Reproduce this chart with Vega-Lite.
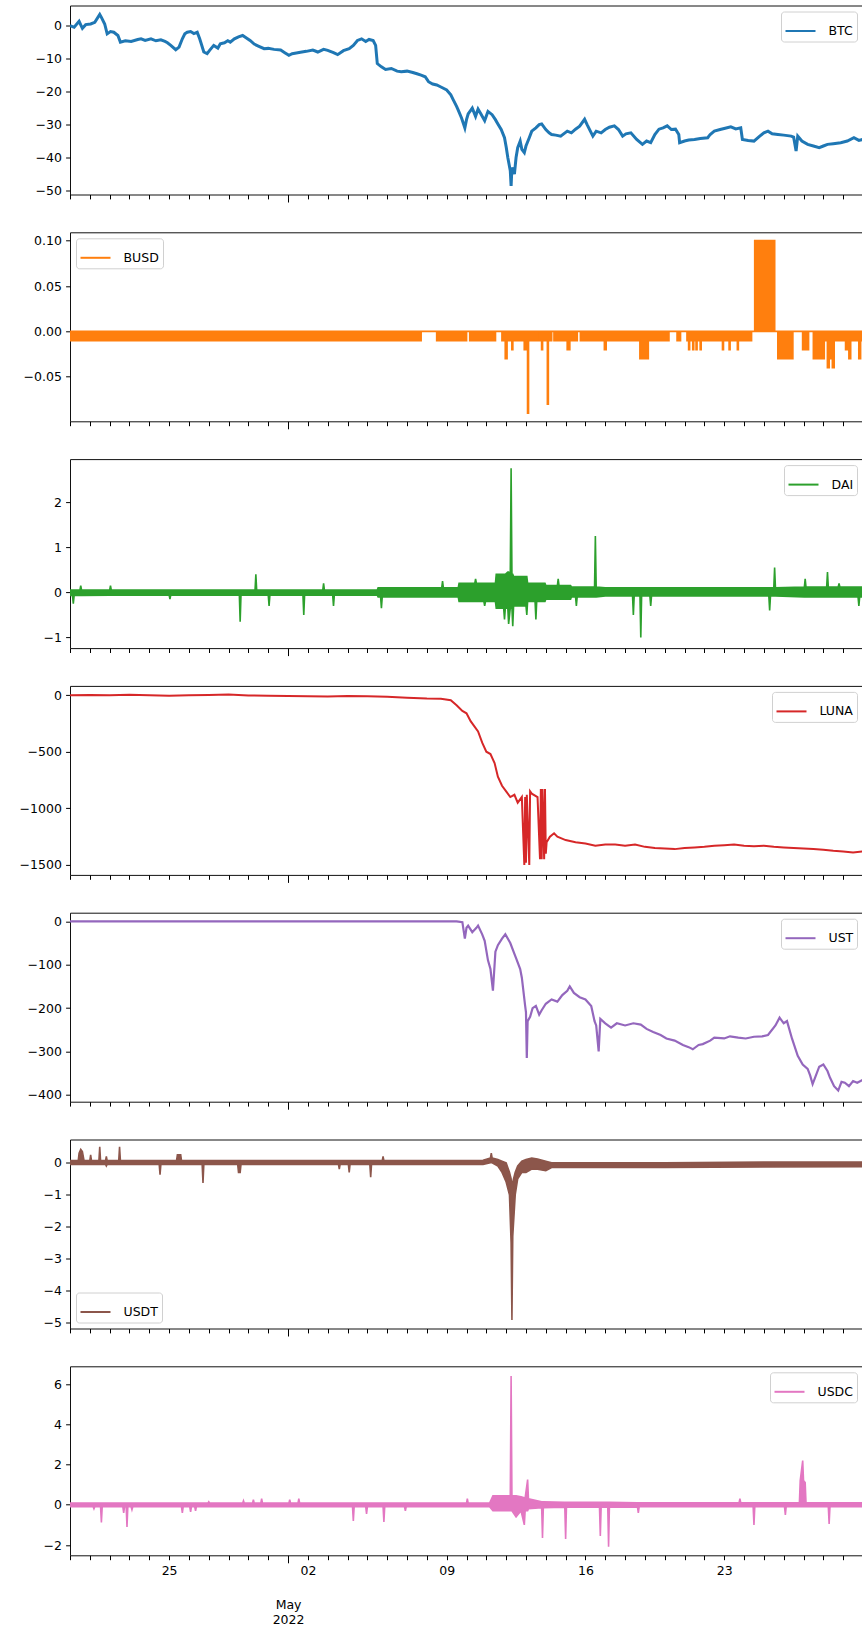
{
"$schema":"https://vega.github.io/schema/vega-lite/v6.json",
"autosize":{"type":"pad"},
"padding":{"left":0,"top":4.5,"right":0,"bottom":2},
"background":"white",
"spacing":37.8,
"bounds":"flush",
"resolve":{"scale":{"color":"independent"},"legend":{"color":"independent"}},
"config":{
 "font":"DejaVu Sans",
 "view":{"stroke":"#111","strokeWidth":1},
 "axisY":{"domain":false,"grid":false,"tickSize":4.4,"labelPadding":4.2,"minExtent":69,"maxExtent":69,"labelFont":"DejaVu Sans","labelFontSize":12.5,"labelColor":"#000","tickColor":"#000","tickWidth":1},
 "axisX":{"domain":false,"grid":false,"tickColor":"#000","tickWidth":1},
 "legend":{"title":null,"labelFont":"DejaVu Sans","labelFontSize":12.5,"labelColor":"#000","symbolSize":900,"symbolStrokeWidth":2,"fillColor":"white","strokeColor":"#d0d0d0","cornerRadius":3,"padding":3.5,"offset":6,"labelOffset":12}
},
"datasets":{
"btc":[
{"t":"2022-04-20T00:00","v":0},{"t":"2022-04-20T05:00","v":-0.5},{"t":"2022-04-20T11:00","v":1.3},{"t":"2022-04-20T13:00","v":0.2},{"t":"2022-04-20T15:00","v":-0.8},{"t":"2022-04-20T19:00","v":0.3},
{"t":"2022-04-21T01:00","v":0.5},{"t":"2022-04-21T06:00","v":1.0},{"t":"2022-04-21T12:00","v":3.4},{"t":"2022-04-21T14:00","v":2.5},{"t":"2022-04-21T18:00","v":0.5},{"t":"2022-04-21T21:00","v":-2.5},
{"t":"2022-04-22T01:00","v":-1.8},{"t":"2022-04-22T05:00","v":-2.0},{"t":"2022-04-22T10:00","v":-3.0},{"t":"2022-04-22T13:00","v":-5.0},{"t":"2022-04-22T19:00","v":-4.6},
{"t":"2022-04-23T02:00","v":-4.8},{"t":"2022-04-23T10:00","v":-4.2},{"t":"2022-04-23T14:00","v":-4.0},{"t":"2022-04-23T19:00","v":-4.5},
{"t":"2022-04-24T02:00","v":-4.0},{"t":"2022-04-24T08:00","v":-4.6},{"t":"2022-04-24T14:00","v":-4.3},{"t":"2022-04-24T19:00","v":-4.8},{"t":"2022-04-24T22:00","v":-5.2},
{"t":"2022-04-25T02:00","v":-6.0},{"t":"2022-04-25T08:00","v":-7.3},{"t":"2022-04-25T12:00","v":-6.5},{"t":"2022-04-25T16:00","v":-4.0},{"t":"2022-04-25T19:00","v":-2.5},{"t":"2022-04-25T22:00","v":-2.0},
{"t":"2022-04-26T02:00","v":-1.8},{"t":"2022-04-26T06:00","v":-2.4},{"t":"2022-04-26T10:00","v":-2.0},{"t":"2022-04-26T13:00","v":-4.0},{"t":"2022-04-26T18:00","v":-8.0},{"t":"2022-04-26T22:00","v":-8.5},
{"t":"2022-04-27T01:00","v":-7.5},{"t":"2022-04-27T06:00","v":-6.0},{"t":"2022-04-27T11:00","v":-6.8},{"t":"2022-04-27T14:00","v":-5.5},{"t":"2022-04-27T19:00","v":-5.2},{"t":"2022-04-27T23:00","v":-4.6},
{"t":"2022-04-28T02:00","v":-5.0},{"t":"2022-04-28T07:00","v":-4.0},{"t":"2022-04-28T12:00","v":-3.4},{"t":"2022-04-28T17:00","v":-3.0},{"t":"2022-04-28T22:00","v":-3.8},
{"t":"2022-04-29T02:00","v":-4.5},{"t":"2022-04-29T07:00","v":-5.6},{"t":"2022-04-29T12:00","v":-6.2},{"t":"2022-04-29T19:00","v":-7.0},
{"t":"2022-04-30T00:00","v":-6.9},{"t":"2022-04-30T07:00","v":-7.2},{"t":"2022-04-30T15:00","v":-7.4},{"t":"2022-04-30T20:00","v":-8.2},
{"t":"2022-05-01T01:00","v":-9.0},{"t":"2022-05-01T05:00","v":-8.5},{"t":"2022-05-01T10:00","v":-8.3},{"t":"2022-05-01T15:00","v":-8.1},{"t":"2022-05-01T22:00","v":-7.8},
{"t":"2022-05-02T06:00","v":-7.4},{"t":"2022-05-02T12:00","v":-8.0},{"t":"2022-05-02T19:00","v":-7.2},
{"t":"2022-05-03T00:00","v":-7.5},{"t":"2022-05-03T07:00","v":-8.2},{"t":"2022-05-03T12:00","v":-8.8},{"t":"2022-05-03T19:00","v":-7.6},
{"t":"2022-05-04T02:00","v":-7.0},{"t":"2022-05-04T07:00","v":-6.0},{"t":"2022-05-04T12:00","v":-4.5},{"t":"2022-05-04T17:00","v":-4.0},{"t":"2022-05-04T22:00","v":-4.8},
{"t":"2022-05-05T02:00","v":-4.2},{"t":"2022-05-05T07:00","v":-4.5},{"t":"2022-05-05T10:00","v":-6.0},{"t":"2022-05-05T12:00","v":-11.5},{"t":"2022-05-05T17:00","v":-12.5},{"t":"2022-05-05T22:00","v":-13.3},
{"t":"2022-05-06T05:00","v":-13.0},{"t":"2022-05-06T12:00","v":-13.8},{"t":"2022-05-06T17:00","v":-14.0},
{"t":"2022-05-07T00:00","v":-13.8},{"t":"2022-05-07T07:00","v":-14.2},{"t":"2022-05-07T12:00","v":-14.6},{"t":"2022-05-07T17:00","v":-15.0},{"t":"2022-05-07T22:00","v":-15.5},
{"t":"2022-05-08T02:00","v":-17.0},{"t":"2022-05-08T07:00","v":-17.7},{"t":"2022-05-08T12:00","v":-18.0},{"t":"2022-05-08T17:00","v":-18.6},
{"t":"2022-05-09T00:00","v":-19.5},{"t":"2022-05-09T05:00","v":-21.0},{"t":"2022-05-09T08:00","v":-22.5},{"t":"2022-05-09T12:00","v":-24.5},{"t":"2022-05-09T14:00","v":-25.6},{"t":"2022-05-09T18:00","v":-28.0},{"t":"2022-05-09T22:00","v":-31.0},
{"t":"2022-05-10T00:00","v":-28.5},{"t":"2022-05-10T02:00","v":-26.8},{"t":"2022-05-10T07:00","v":-25.0},{"t":"2022-05-10T11:00","v":-27.5},{"t":"2022-05-10T14:00","v":-25.3},{"t":"2022-05-10T18:00","v":-27.0},{"t":"2022-05-10T22:00","v":-28.8},
{"t":"2022-05-11T02:00","v":-26.0},{"t":"2022-05-11T07:00","v":-27.0},{"t":"2022-05-11T11:00","v":-28.5},{"t":"2022-05-11T14:00","v":-29.8},{"t":"2022-05-11T18:00","v":-31.5},{"t":"2022-05-11T22:00","v":-34.0},
{"t":"2022-05-12T00:00","v":-36.7},{"t":"2022-05-12T02:00","v":-40.0},{"t":"2022-05-12T05:00","v":-44.0},{"t":"2022-05-12T06:00","v":-48.6},{"t":"2022-05-12T07:00","v":-43.0},{"t":"2022-05-12T10:00","v":-45.0},{"t":"2022-05-12T12:00","v":-40.0},{"t":"2022-05-12T14:00","v":-37.0},{"t":"2022-05-12T17:00","v":-35.0},{"t":"2022-05-12T19:00","v":-37.5},{"t":"2022-05-12T22:00","v":-38.5},
{"t":"2022-05-13T00:00","v":-36.5},{"t":"2022-05-13T04:00","v":-34.0},{"t":"2022-05-13T07:00","v":-32.0},{"t":"2022-05-13T12:00","v":-31.0},{"t":"2022-05-13T16:00","v":-30.0},{"t":"2022-05-13T19:00","v":-29.8},
{"t":"2022-05-14T00:00","v":-31.5},{"t":"2022-05-14T04:00","v":-32.5},{"t":"2022-05-14T07:00","v":-33.0},{"t":"2022-05-14T12:00","v":-33.2},{"t":"2022-05-14T18:00","v":-33.5},
{"t":"2022-05-15T02:00","v":-32.0},{"t":"2022-05-15T07:00","v":-32.5},{"t":"2022-05-15T12:00","v":-31.4},{"t":"2022-05-15T17:00","v":-30.5},{"t":"2022-05-15T23:00","v":-28.4},
{"t":"2022-05-16T02:00","v":-30.0},{"t":"2022-05-16T09:00","v":-33.5},{"t":"2022-05-16T13:00","v":-32.0},{"t":"2022-05-16T19:00","v":-32.5},
{"t":"2022-05-17T00:00","v":-31.5},{"t":"2022-05-17T05:00","v":-30.8},{"t":"2022-05-17T11:00","v":-30.4},{"t":"2022-05-17T16:00","v":-31.5},{"t":"2022-05-17T21:00","v":-33.5},
{"t":"2022-05-18T01:00","v":-32.8},{"t":"2022-05-18T07:00","v":-32.5},{"t":"2022-05-18T14:00","v":-34.5},{"t":"2022-05-18T21:00","v":-36.0},
{"t":"2022-05-19T02:00","v":-35.0},{"t":"2022-05-19T07:00","v":-35.5},{"t":"2022-05-19T12:00","v":-33.0},{"t":"2022-05-19T17:00","v":-31.4},{"t":"2022-05-19T22:00","v":-31.0},
{"t":"2022-05-20T03:00","v":-30.4},{"t":"2022-05-20T08:00","v":-31.5},{"t":"2022-05-20T13:00","v":-31.4},{"t":"2022-05-20T17:00","v":-33.0},{"t":"2022-05-20T18:00","v":-35.5},
{"t":"2022-05-21T00:00","v":-35.0},{"t":"2022-05-21T05:00","v":-34.7},{"t":"2022-05-21T12:00","v":-34.5},{"t":"2022-05-21T19:00","v":-34.2},
{"t":"2022-05-22T04:00","v":-34.0},{"t":"2022-05-22T07:00","v":-33.0},{"t":"2022-05-22T12:00","v":-32.0},{"t":"2022-05-22T19:00","v":-31.5},
{"t":"2022-05-23T00:00","v":-31.2},{"t":"2022-05-23T08:00","v":-30.7},{"t":"2022-05-23T14:00","v":-31.3},{"t":"2022-05-23T20:00","v":-31.0},{"t":"2022-05-23T22:00","v":-34.5},
{"t":"2022-05-24T05:00","v":-34.8},{"t":"2022-05-24T12:00","v":-35.0},{"t":"2022-05-24T19:00","v":-33.5},
{"t":"2022-05-25T00:00","v":-32.5},{"t":"2022-05-25T05:00","v":-32.0},{"t":"2022-05-25T10:00","v":-32.8},{"t":"2022-05-25T17:00","v":-33.0},
{"t":"2022-05-26T00:00","v":-33.2},{"t":"2022-05-26T09:00","v":-33.5},{"t":"2022-05-26T12:00","v":-33.8},{"t":"2022-05-26T15:00","v":-38.0},{"t":"2022-05-26T17:00","v":-33.5},{"t":"2022-05-26T22:00","v":-35.0},
{"t":"2022-05-27T05:00","v":-36.0},{"t":"2022-05-27T12:00","v":-36.5},{"t":"2022-05-27T19:00","v":-37.0},
{"t":"2022-05-28T00:00","v":-36.5},{"t":"2022-05-28T05:00","v":-36.0},{"t":"2022-05-28T12:00","v":-35.8},{"t":"2022-05-28T21:00","v":-35.5},
{"t":"2022-05-29T05:00","v":-35.0},{"t":"2022-05-29T13:00","v":-34.0},{"t":"2022-05-29T19:00","v":-34.8},{"t":"2022-05-30T00:00","v":-34.5}
],
"busd":[
{"t":"2022-04-20T00:00","lo":-0.01,"hi":0},{"t":"2022-05-07T17:00","lo":0,"hi":0},{"t":"2022-05-08T12:00","lo":-0.01,"hi":0},{"t":"2022-05-10T00:00","lo":0,"hi":0},{"t":"2022-05-10T04:00","lo":-0.01,"hi":0},
{"t":"2022-05-11T11:00","lo":0,"hi":0},{"t":"2022-05-11T19:00","lo":-0.01,"hi":0},{"t":"2022-05-11T23:00","lo":-0.03,"hi":0},{"t":"2022-05-12T01:00","lo":-0.01,"hi":0},{"t":"2022-05-12T07:00","lo":-0.02,"hi":0},{"t":"2022-05-12T08:00","lo":-0.01,"hi":0},
{"t":"2022-05-12T22:00","lo":-0.02,"hi":0},{"t":"2022-05-13T00:00","lo":-0.01,"hi":0},{"t":"2022-05-13T02:00","lo":-0.09,"hi":0},{"t":"2022-05-13T03:00","lo":-0.01,"hi":0},{"t":"2022-05-13T12:00","lo":0,"hi":0},{"t":"2022-05-13T14:00","lo":-0.01,"hi":0},
{"t":"2022-05-13T19:00","lo":-0.02,"hi":0},{"t":"2022-05-13T20:00","lo":-0.01,"hi":0},{"t":"2022-05-14T02:00","lo":-0.08,"hi":0},{"t":"2022-05-14T03:00","lo":-0.01,"hi":0},{"t":"2022-05-14T07:00","lo":0,"hi":0},{"t":"2022-05-14T10:00","lo":-0.01,"hi":0},
{"t":"2022-05-15T02:00","lo":-0.02,"hi":0},{"t":"2022-05-15T05:00","lo":-0.01,"hi":0},{"t":"2022-05-15T14:00","lo":0,"hi":0},{"t":"2022-05-15T18:00","lo":-0.01,"hi":0},{"t":"2022-05-16T23:00","lo":-0.02,"hi":0},{"t":"2022-05-17T01:00","lo":-0.01,"hi":0},
{"t":"2022-05-18T18:00","lo":-0.03,"hi":0},{"t":"2022-05-19T04:00","lo":-0.01,"hi":0},{"t":"2022-05-20T05:00","lo":0,"hi":0},{"t":"2022-05-20T15:00","lo":-0.01,"hi":0},{"t":"2022-05-20T19:00","lo":0,"hi":0},{"t":"2022-05-21T03:00","lo":-0.01,"hi":0},
{"t":"2022-05-21T05:00","lo":-0.02,"hi":0},{"t":"2022-05-21T06:00","lo":-0.01,"hi":0},{"t":"2022-05-21T10:00","lo":-0.02,"hi":0},{"t":"2022-05-21T11:00","lo":-0.01,"hi":0},{"t":"2022-05-21T14:00","lo":-0.02,"hi":0},{"t":"2022-05-21T15:00","lo":-0.01,"hi":0},
{"t":"2022-05-21T19:00","lo":-0.02,"hi":0},{"t":"2022-05-21T20:00","lo":-0.01,"hi":0},{"t":"2022-05-22T22:00","lo":-0.02,"hi":0},{"t":"2022-05-22T23:00","lo":-0.01,"hi":0},{"t":"2022-05-23T06:00","lo":-0.02,"hi":0},{"t":"2022-05-23T07:00","lo":-0.01,"hi":0},
{"t":"2022-05-23T16:00","lo":-0.02,"hi":0},{"t":"2022-05-23T17:00","lo":-0.01,"hi":0},{"t":"2022-05-24T09:00","lo":0,"hi":0},{"t":"2022-05-24T13:00","lo":0,"hi":0.1},{"t":"2022-05-25T13:00","lo":0,"hi":0},{"t":"2022-05-25T17:00","lo":-0.03,"hi":0},
{"t":"2022-05-26T11:00","lo":0,"hi":0},{"t":"2022-05-26T23:00","lo":-0.02,"hi":0},{"t":"2022-05-27T06:00","lo":0,"hi":0},{"t":"2022-05-27T12:00","lo":-0.03,"hi":0},{"t":"2022-05-28T01:00","lo":-0.01,"hi":0},{"t":"2022-05-28T05:00","lo":-0.04,"hi":0},
{"t":"2022-05-28T07:00","lo":-0.03,"hi":0},{"t":"2022-05-28T11:00","lo":-0.04,"hi":0},{"t":"2022-05-28T13:00","lo":-0.01,"hi":0},{"t":"2022-05-29T03:00","lo":-0.02,"hi":0},{"t":"2022-05-29T07:00","lo":-0.03,"hi":0},{"t":"2022-05-29T09:00","lo":-0.01,"hi":0},
{"t":"2022-05-29T19:00","lo":-0.03,"hi":0},{"t":"2022-05-29T21:00","lo":-0.01,"hi":0},{"t":"2022-05-30T00:00","lo":-0.01,"hi":0}
],
"dai":[
{"t":"2022-04-20T00:00","lo":-0.07,"hi":0.05},{"t":"2022-04-20T03:00","lo":-0.07,"hi":0.05},{"t":"2022-04-20T04:00","lo":-0.25,"hi":0.05},{"t":"2022-04-20T05:00","lo":-0.07,"hi":0.05},{"t":"2022-04-20T12:00","lo":-0.07,"hi":0.05},{"t":"2022-04-20T13:00","lo":-0.07,"hi":0.15},{"t":"2022-04-20T14:00","lo":-0.07,"hi":0.05},
{"t":"2022-04-22T00:00","lo":-0.06,"hi":0.05},{"t":"2022-04-22T01:00","lo":-0.06,"hi":0.15},{"t":"2022-04-22T02:00","lo":-0.06,"hi":0.05},{"t":"2022-04-25T00:00","lo":-0.06,"hi":0.05},{"t":"2022-04-25T01:00","lo":-0.15,"hi":0.05},{"t":"2022-04-25T02:00","lo":-0.06,"hi":0.05},
{"t":"2022-04-28T13:00","lo":-0.06,"hi":0.05},{"t":"2022-04-28T14:00","lo":-0.65,"hi":0.05},{"t":"2022-04-28T15:00","lo":-0.06,"hi":0.05},{"t":"2022-04-29T08:00","lo":-0.06,"hi":0.05},{"t":"2022-04-29T09:00","lo":-0.06,"hi":0.4},{"t":"2022-04-29T10:00","lo":-0.06,"hi":0.05},
{"t":"2022-04-30T00:00","lo":-0.06,"hi":0.05},{"t":"2022-04-30T01:00","lo":-0.3,"hi":0.05},{"t":"2022-04-30T02:00","lo":-0.06,"hi":0.05},{"t":"2022-05-01T18:00","lo":-0.06,"hi":0.05},{"t":"2022-05-01T19:00","lo":-0.5,"hi":0.05},{"t":"2022-05-01T20:00","lo":-0.06,"hi":0.05},
{"t":"2022-05-02T18:00","lo":-0.06,"hi":0.05},{"t":"2022-05-02T19:00","lo":-0.06,"hi":0.2},{"t":"2022-05-02T20:00","lo":-0.06,"hi":0.05},{"t":"2022-05-03T06:00","lo":-0.06,"hi":0.05},{"t":"2022-05-03T07:00","lo":-0.3,"hi":0.05},{"t":"2022-05-03T08:00","lo":-0.06,"hi":0.05},
{"t":"2022-05-05T12:00","lo":-0.06,"hi":0.05},{"t":"2022-05-05T13:00","lo":-0.1,"hi":0.1},{"t":"2022-05-05T16:00","lo":-0.1,"hi":0.1},{"t":"2022-05-05T17:00","lo":-0.35,"hi":0.1},{"t":"2022-05-05T18:00","lo":-0.1,"hi":0.1},{"t":"2022-05-08T18:00","lo":-0.1,"hi":0.1},{"t":"2022-05-08T19:00","lo":-0.1,"hi":0.25},{"t":"2022-05-08T20:00","lo":-0.1,"hi":0.1},
{"t":"2022-05-09T14:00","lo":-0.1,"hi":0.1},{"t":"2022-05-09T15:00","lo":-0.2,"hi":0.2},{"t":"2022-05-10T10:00","lo":-0.2,"hi":0.2},{"t":"2022-05-10T11:00","lo":-0.2,"hi":0.3},{"t":"2022-05-10T12:00","lo":-0.2,"hi":0.2},{"t":"2022-05-10T21:00","lo":-0.2,"hi":0.2},{"t":"2022-05-10T22:00","lo":-0.3,"hi":0.2},{"t":"2022-05-10T23:00","lo":-0.2,"hi":0.2},
{"t":"2022-05-11T11:00","lo":-0.2,"hi":0.2},{"t":"2022-05-11T12:00","lo":-0.35,"hi":0.4},{"t":"2022-05-11T21:00","lo":-0.35,"hi":0.4},{"t":"2022-05-11T22:00","lo":-0.6,"hi":0.4},{"t":"2022-05-11T23:00","lo":-0.35,"hi":0.4},{"t":"2022-05-12T02:00","lo":-0.35,"hi":0.45},{"t":"2022-05-12T03:00","lo":-0.7,"hi":0.45},{"t":"2022-05-12T05:00","lo":-0.35,"hi":0.4},
{"t":"2022-05-12T06:00","lo":-0.35,"hi":2.75},{"t":"2022-05-12T07:00","lo":-0.35,"hi":0.4},{"t":"2022-05-12T08:00","lo":-0.75,"hi":0.4},{"t":"2022-05-12T09:00","lo":-0.3,"hi":0.35},{"t":"2022-05-13T00:00","lo":-0.3,"hi":0.35},{"t":"2022-05-13T01:00","lo":-0.5,"hi":0.35},{"t":"2022-05-13T02:00","lo":-0.2,"hi":0.2},
{"t":"2022-05-13T11:00","lo":-0.2,"hi":0.2},{"t":"2022-05-13T12:00","lo":-0.6,"hi":0.2},{"t":"2022-05-13T13:00","lo":-0.2,"hi":0.2},{"t":"2022-05-13T23:00","lo":-0.2,"hi":0.2},{"t":"2022-05-14T00:00","lo":-0.15,"hi":0.15},{"t":"2022-05-14T14:00","lo":-0.15,"hi":0.15},{"t":"2022-05-14T15:00","lo":-0.15,"hi":0.3},{"t":"2022-05-14T16:00","lo":-0.15,"hi":0.15},
{"t":"2022-05-15T06:00","lo":-0.15,"hi":0.15},{"t":"2022-05-15T07:00","lo":-0.1,"hi":0.12},{"t":"2022-05-15T12:00","lo":-0.1,"hi":0.12},{"t":"2022-05-15T13:00","lo":-0.3,"hi":0.12},{"t":"2022-05-15T14:00","lo":-0.1,"hi":0.12},{"t":"2022-05-16T11:00","lo":-0.1,"hi":0.12},{"t":"2022-05-16T12:00","lo":-0.1,"hi":1.25},{"t":"2022-05-16T13:00","lo":-0.1,"hi":0.12},
{"t":"2022-05-17T00:00","lo":-0.08,"hi":0.1},{"t":"2022-05-18T09:00","lo":-0.08,"hi":0.1},{"t":"2022-05-18T10:00","lo":-0.5,"hi":0.1},{"t":"2022-05-18T11:00","lo":-0.08,"hi":0.1},{"t":"2022-05-18T18:00","lo":-0.08,"hi":0.1},{"t":"2022-05-18T19:00","lo":-1.0,"hi":0.1},{"t":"2022-05-18T20:00","lo":-0.08,"hi":0.1},
{"t":"2022-05-19T06:00","lo":-0.08,"hi":0.1},{"t":"2022-05-19T07:00","lo":-0.3,"hi":0.1},{"t":"2022-05-19T08:00","lo":-0.08,"hi":0.1},{"t":"2022-05-25T06:00","lo":-0.08,"hi":0.1},{"t":"2022-05-25T07:00","lo":-0.4,"hi":0.1},{"t":"2022-05-25T08:00","lo":-0.08,"hi":0.1},
{"t":"2022-05-25T12:00","lo":-0.08,"hi":0.1},{"t":"2022-05-25T13:00","lo":-0.08,"hi":0.55},{"t":"2022-05-25T14:00","lo":-0.08,"hi":0.1},{"t":"2022-05-27T01:00","lo":-0.1,"hi":0.12},{"t":"2022-05-27T02:00","lo":-0.1,"hi":0.3},{"t":"2022-05-27T03:00","lo":-0.1,"hi":0.12},
{"t":"2022-05-28T04:00","lo":-0.1,"hi":0.12},{"t":"2022-05-28T05:00","lo":-0.1,"hi":0.45},{"t":"2022-05-28T06:00","lo":-0.1,"hi":0.12},{"t":"2022-05-28T18:00","lo":-0.1,"hi":0.12},{"t":"2022-05-28T19:00","lo":-0.1,"hi":0.2},{"t":"2022-05-28T20:00","lo":-0.1,"hi":0.12},
{"t":"2022-05-29T18:00","lo":-0.1,"hi":0.12},{"t":"2022-05-29T19:00","lo":-0.3,"hi":0.12},{"t":"2022-05-29T20:00","lo":-0.1,"hi":0.12},{"t":"2022-05-30T00:00","lo":-0.1,"hi":0.12}
],
"luna":[
{"t":"2022-04-20T00:00","v":0},{"t":"2022-04-21T00:00","v":2},{"t":"2022-04-22T00:00","v":-2},{"t":"2022-04-23T00:00","v":3},{"t":"2022-04-24T00:00","v":0},{"t":"2022-04-25T00:00","v":-5},{"t":"2022-04-26T00:00","v":0},{"t":"2022-04-27T00:00","v":2},{"t":"2022-04-28T00:00","v":5},{"t":"2022-04-29T00:00","v":-3},{"t":"2022-04-30T00:00","v":-5},
{"t":"2022-05-01T00:00","v":-8},{"t":"2022-05-02T00:00","v":-10},{"t":"2022-05-03T00:00","v":-12},{"t":"2022-05-04T00:00","v":-8},{"t":"2022-05-05T00:00","v":-10},{"t":"2022-05-06T00:00","v":-15},{"t":"2022-05-07T00:00","v":-22},{"t":"2022-05-08T00:00","v":-30},{"t":"2022-05-08T17:00","v":-32},
{"t":"2022-05-09T05:00","v":-45},{"t":"2022-05-09T12:00","v":-90},{"t":"2022-05-09T19:00","v":-140},{"t":"2022-05-10T00:00","v":-160},{"t":"2022-05-10T05:00","v":-230},{"t":"2022-05-10T10:00","v":-280},{"t":"2022-05-10T14:00","v":-320},{"t":"2022-05-10T19:00","v":-420},
{"t":"2022-05-11T00:00","v":-500},{"t":"2022-05-11T05:00","v":-520},{"t":"2022-05-11T10:00","v":-600},{"t":"2022-05-11T14:00","v":-720},{"t":"2022-05-11T19:00","v":-800},{"t":"2022-05-12T00:00","v":-850},{"t":"2022-05-12T05:00","v":-900},{"t":"2022-05-12T10:00","v":-880},{"t":"2022-05-12T14:00","v":-950},{"t":"2022-05-12T19:00","v":-900},
{"t":"2022-05-12T22:00","v":-1500},{"t":"2022-05-12T23:00","v":-900},{"t":"2022-05-13T00:00","v":-1480},{"t":"2022-05-13T01:00","v":-880},{"t":"2022-05-13T04:00","v":-1500},{"t":"2022-05-13T05:00","v":-850},{"t":"2022-05-13T07:00","v":-870},{"t":"2022-05-13T14:00","v":-900},
{"t":"2022-05-13T17:00","v":-1450},{"t":"2022-05-13T18:00","v":-830},{"t":"2022-05-13T19:00","v":-1450},{"t":"2022-05-13T20:00","v":-830},{"t":"2022-05-13T22:00","v":-1450},{"t":"2022-05-13T23:00","v":-830},{"t":"2022-05-14T00:00","v":-1400},{"t":"2022-05-14T01:00","v":-1300},
{"t":"2022-05-14T05:00","v":-1250},{"t":"2022-05-14T10:00","v":-1220},{"t":"2022-05-14T14:00","v":-1250},{"t":"2022-05-15T00:00","v":-1280},{"t":"2022-05-15T12:00","v":-1300},{"t":"2022-05-16T00:00","v":-1310},{"t":"2022-05-16T12:00","v":-1330},{"t":"2022-05-17T00:00","v":-1320},{"t":"2022-05-17T12:00","v":-1320},
{"t":"2022-05-18T00:00","v":-1330},{"t":"2022-05-18T12:00","v":-1320},{"t":"2022-05-19T00:00","v":-1340},{"t":"2022-05-19T12:00","v":-1350},{"t":"2022-05-20T00:00","v":-1355},{"t":"2022-05-20T12:00","v":-1360},{"t":"2022-05-21T00:00","v":-1350},{"t":"2022-05-21T12:00","v":-1345},
{"t":"2022-05-22T00:00","v":-1340},{"t":"2022-05-22T12:00","v":-1330},{"t":"2022-05-23T00:00","v":-1325},{"t":"2022-05-23T12:00","v":-1320},{"t":"2022-05-24T00:00","v":-1330},{"t":"2022-05-24T12:00","v":-1335},{"t":"2022-05-25T00:00","v":-1330},{"t":"2022-05-25T12:00","v":-1340},
{"t":"2022-05-26T00:00","v":-1345},{"t":"2022-05-26T12:00","v":-1350},{"t":"2022-05-27T00:00","v":-1355},{"t":"2022-05-27T12:00","v":-1360},{"t":"2022-05-28T00:00","v":-1365},{"t":"2022-05-28T12:00","v":-1375},{"t":"2022-05-29T00:00","v":-1380},{"t":"2022-05-29T12:00","v":-1390},{"t":"2022-05-30T00:00","v":-1380}
],
"ust":[
{"t":"2022-04-20T00:00","v":0},{"t":"2022-05-09T12:00","v":0},{"t":"2022-05-09T19:00","v":-2},{"t":"2022-05-09T22:00","v":-40},{"t":"2022-05-10T00:00","v":-15},{"t":"2022-05-10T02:00","v":-10},{"t":"2022-05-10T07:00","v":-25},{"t":"2022-05-10T12:00","v":-15},{"t":"2022-05-10T14:00","v":-10},{"t":"2022-05-10T19:00","v":-30},{"t":"2022-05-10T22:00","v":-45},
{"t":"2022-05-11T02:00","v":-90},{"t":"2022-05-11T05:00","v":-110},{"t":"2022-05-11T08:00","v":-160},{"t":"2022-05-11T11:00","v":-70},{"t":"2022-05-11T14:00","v":-55},{"t":"2022-05-11T19:00","v":-40},{"t":"2022-05-11T23:00","v":-30},
{"t":"2022-05-12T05:00","v":-50},{"t":"2022-05-12T10:00","v":-75},{"t":"2022-05-12T12:00","v":-85},{"t":"2022-05-12T17:00","v":-110},{"t":"2022-05-12T19:00","v":-130},{"t":"2022-05-12T23:00","v":-195},
{"t":"2022-05-13T00:00","v":-210},{"t":"2022-05-13T01:00","v":-315},{"t":"2022-05-13T02:00","v":-230},{"t":"2022-05-13T05:00","v":-220},{"t":"2022-05-13T08:00","v":-200},{"t":"2022-05-13T12:00","v":-195},{"t":"2022-05-13T16:00","v":-215},{"t":"2022-05-13T19:00","v":-205},
{"t":"2022-05-14T00:00","v":-190},{"t":"2022-05-14T07:00","v":-180},{"t":"2022-05-14T14:00","v":-185},{"t":"2022-05-14T20:00","v":-170},{"t":"2022-05-15T02:00","v":-160},{"t":"2022-05-15T05:00","v":-150},{"t":"2022-05-15T10:00","v":-165},{"t":"2022-05-15T17:00","v":-175},
{"t":"2022-05-16T00:00","v":-180},{"t":"2022-05-16T07:00","v":-195},{"t":"2022-05-16T11:00","v":-230},{"t":"2022-05-16T13:00","v":-240},{"t":"2022-05-16T16:00","v":-300},{"t":"2022-05-16T18:00","v":-225},
{"t":"2022-05-17T00:00","v":-235},{"t":"2022-05-17T07:00","v":-245},{"t":"2022-05-17T14:00","v":-235},{"t":"2022-05-18T00:00","v":-240},{"t":"2022-05-18T10:00","v":-235},{"t":"2022-05-18T19:00","v":-238},
{"t":"2022-05-19T02:00","v":-248},{"t":"2022-05-19T10:00","v":-255},{"t":"2022-05-19T19:00","v":-262},{"t":"2022-05-20T02:00","v":-270},{"t":"2022-05-20T12:00","v":-275},{"t":"2022-05-20T22:00","v":-285},
{"t":"2022-05-21T05:00","v":-290},{"t":"2022-05-21T10:00","v":-295},{"t":"2022-05-21T17:00","v":-285},{"t":"2022-05-21T22:00","v":-283},{"t":"2022-05-22T07:00","v":-275},{"t":"2022-05-22T12:00","v":-268},
{"t":"2022-05-23T00:00","v":-270},{"t":"2022-05-23T07:00","v":-265},{"t":"2022-05-23T17:00","v":-268},{"t":"2022-05-24T02:00","v":-270},{"t":"2022-05-24T12:00","v":-266},{"t":"2022-05-24T22:00","v":-265},
{"t":"2022-05-25T05:00","v":-262},{"t":"2022-05-25T14:00","v":-240},{"t":"2022-05-25T19:00","v":-222},{"t":"2022-05-26T00:00","v":-235},{"t":"2022-05-26T04:00","v":-230},{"t":"2022-05-26T10:00","v":-270},{"t":"2022-05-26T17:00","v":-310},{"t":"2022-05-26T23:00","v":-330},
{"t":"2022-05-27T05:00","v":-340},{"t":"2022-05-27T08:00","v":-355},{"t":"2022-05-27T11:00","v":-375},{"t":"2022-05-27T14:00","v":-360},{"t":"2022-05-27T19:00","v":-335},
{"t":"2022-05-28T00:00","v":-330},{"t":"2022-05-28T05:00","v":-345},{"t":"2022-05-28T08:00","v":-360},{"t":"2022-05-28T13:00","v":-380},{"t":"2022-05-28T18:00","v":-390},{"t":"2022-05-28T22:00","v":-370},
{"t":"2022-05-29T02:00","v":-372},{"t":"2022-05-29T07:00","v":-380},{"t":"2022-05-29T12:00","v":-368},{"t":"2022-05-29T17:00","v":-372},{"t":"2022-05-30T00:00","v":-365}
],
"usdt":[
{"t":"2022-04-20T00:00","lo":-0.05,"hi":0.07},{"t":"2022-04-20T10:00","lo":-0.05,"hi":0.07},{"t":"2022-04-20T11:00","lo":-0.05,"hi":0.3},{"t":"2022-04-20T13:00","lo":-0.05,"hi":0.42},{"t":"2022-04-20T15:00","lo":-0.05,"hi":0.35},{"t":"2022-04-20T17:00","lo":-0.05,"hi":0.07},
{"t":"2022-04-21T00:00","lo":-0.05,"hi":0.07},{"t":"2022-04-21T01:00","lo":-0.05,"hi":0.25},{"t":"2022-04-21T02:00","lo":-0.05,"hi":0.07},{"t":"2022-04-21T11:00","lo":-0.05,"hi":0.07},{"t":"2022-04-21T12:00","lo":-0.05,"hi":0.5},{"t":"2022-04-21T13:00","lo":-0.05,"hi":0.07},
{"t":"2022-04-21T19:00","lo":-0.05,"hi":0.07},{"t":"2022-04-21T20:00","lo":-0.1,"hi":0.2},{"t":"2022-04-21T21:00","lo":-0.05,"hi":0.07},{"t":"2022-04-22T11:00","lo":-0.05,"hi":0.07},{"t":"2022-04-22T12:00","lo":-0.05,"hi":0.5},{"t":"2022-04-22T13:00","lo":-0.05,"hi":0.07},
{"t":"2022-04-24T12:00","lo":-0.05,"hi":0.07},{"t":"2022-04-24T13:00","lo":-0.37,"hi":0.07},{"t":"2022-04-24T14:00","lo":-0.05,"hi":0.07},{"t":"2022-04-25T09:00","lo":-0.05,"hi":0.07},{"t":"2022-04-25T10:00","lo":-0.05,"hi":0.25},{"t":"2022-04-25T14:00","lo":-0.05,"hi":0.25},{"t":"2022-04-25T15:00","lo":-0.05,"hi":0.07},
{"t":"2022-04-26T16:00","lo":-0.05,"hi":0.07},{"t":"2022-04-26T17:00","lo":-0.63,"hi":0.07},{"t":"2022-04-26T18:00","lo":-0.05,"hi":0.07},{"t":"2022-04-28T11:00","lo":-0.05,"hi":0.07},{"t":"2022-04-28T12:00","lo":-0.3,"hi":0.07},{"t":"2022-04-28T14:00","lo":-0.3,"hi":0.07},{"t":"2022-04-28T15:00","lo":-0.05,"hi":0.07},
{"t":"2022-05-03T13:00","lo":-0.05,"hi":0.07},{"t":"2022-05-03T14:00","lo":-0.2,"hi":0.07},{"t":"2022-05-03T15:00","lo":-0.05,"hi":0.07},{"t":"2022-05-04T01:00","lo":-0.05,"hi":0.07},{"t":"2022-05-04T02:00","lo":-0.3,"hi":0.07},{"t":"2022-05-04T03:00","lo":-0.05,"hi":0.07},
{"t":"2022-05-05T03:00","lo":-0.05,"hi":0.07},{"t":"2022-05-05T04:00","lo":-0.45,"hi":0.07},{"t":"2022-05-05T05:00","lo":-0.05,"hi":0.07},{"t":"2022-05-05T18:00","lo":-0.05,"hi":0.07},{"t":"2022-05-05T19:00","lo":-0.05,"hi":0.2},{"t":"2022-05-05T20:00","lo":-0.05,"hi":0.07},
{"t":"2022-05-10T20:00","lo":-0.05,"hi":0.08},{"t":"2022-05-11T05:00","lo":0.0,"hi":0.15},{"t":"2022-05-11T06:00","lo":0.0,"hi":0.3},{"t":"2022-05-11T07:00","lo":0.0,"hi":0.15},{"t":"2022-05-11T14:00","lo":-0.1,"hi":0.1},{"t":"2022-05-11T19:00","lo":-0.3,"hi":0.05},
{"t":"2022-05-12T00:00","lo":-0.6,"hi":0.0},{"t":"2022-05-12T04:00","lo":-1.0,"hi":-0.3},{"t":"2022-05-12T06:00","lo":-2.5,"hi":-0.5},{"t":"2022-05-12T07:00","lo":-4.93,"hi":-1.0},{"t":"2022-05-12T08:00","lo":-2.3,"hi":-0.6},{"t":"2022-05-12T11:00","lo":-1.0,"hi":-0.3},{"t":"2022-05-12T14:00","lo":-0.5,"hi":-0.1},{"t":"2022-05-12T19:00","lo":-0.3,"hi":0.05},
{"t":"2022-05-13T00:00","lo":-0.3,"hi":0.1},{"t":"2022-05-13T07:00","lo":-0.2,"hi":0.15},{"t":"2022-05-13T14:00","lo":-0.2,"hi":0.12},{"t":"2022-05-14T00:00","lo":-0.25,"hi":0.05},{"t":"2022-05-14T07:00","lo":-0.15,"hi":0.0},{"t":"2022-05-20T00:00","lo":-0.15,"hi":0.0},{"t":"2022-05-25T00:00","lo":-0.13,"hi":0.02},{"t":"2022-05-30T00:00","lo":-0.12,"hi":0.02}
],
"usdc":[
{"t":"2022-04-20T00:00","lo":-0.1,"hi":0.08},{"t":"2022-04-21T04:00","lo":-0.1,"hi":0.08},{"t":"2022-04-21T05:00","lo":-0.2,"hi":0.08},{"t":"2022-04-21T06:00","lo":-0.1,"hi":0.08},{"t":"2022-04-21T13:00","lo":-0.1,"hi":0.08},{"t":"2022-04-21T14:00","lo":-0.88,"hi":0.08},{"t":"2022-04-21T15:00","lo":-0.1,"hi":0.08},
{"t":"2022-04-22T16:00","lo":-0.1,"hi":0.08},{"t":"2022-04-22T17:00","lo":-0.4,"hi":0.08},{"t":"2022-04-22T18:00","lo":-0.1,"hi":0.08},{"t":"2022-04-22T20:00","lo":-0.1,"hi":0.08},{"t":"2022-04-22T21:00","lo":-1.1,"hi":0.08},{"t":"2022-04-22T22:00","lo":-0.1,"hi":0.08},
{"t":"2022-04-23T02:00","lo":-0.1,"hi":0.08},{"t":"2022-04-23T03:00","lo":-0.25,"hi":0.08},{"t":"2022-04-23T04:00","lo":-0.1,"hi":0.08},{"t":"2022-04-25T15:00","lo":-0.1,"hi":0.08},{"t":"2022-04-25T16:00","lo":-0.4,"hi":0.08},{"t":"2022-04-25T17:00","lo":-0.1,"hi":0.08},
{"t":"2022-04-26T01:00","lo":-0.1,"hi":0.08},{"t":"2022-04-26T02:00","lo":-0.35,"hi":0.08},{"t":"2022-04-26T03:00","lo":-0.1,"hi":0.08},{"t":"2022-04-26T07:00","lo":-0.1,"hi":0.08},{"t":"2022-04-26T08:00","lo":-0.3,"hi":0.08},{"t":"2022-04-26T09:00","lo":-0.1,"hi":0.08},
{"t":"2022-04-26T23:00","lo":-0.1,"hi":0.08},{"t":"2022-04-27T00:00","lo":-0.1,"hi":0.15},{"t":"2022-04-27T01:00","lo":-0.1,"hi":0.08},{"t":"2022-04-28T17:00","lo":-0.1,"hi":0.08},{"t":"2022-04-28T18:00","lo":-0.1,"hi":0.2},{"t":"2022-04-28T19:00","lo":-0.1,"hi":0.08},
{"t":"2022-04-29T05:00","lo":-0.1,"hi":0.08},{"t":"2022-04-29T06:00","lo":-0.1,"hi":0.25},{"t":"2022-04-29T07:00","lo":-0.1,"hi":0.08},{"t":"2022-04-29T15:00","lo":-0.1,"hi":0.08},{"t":"2022-04-29T16:00","lo":-0.1,"hi":0.3},{"t":"2022-04-29T17:00","lo":-0.1,"hi":0.08},
{"t":"2022-05-01T01:00","lo":-0.1,"hi":0.08},{"t":"2022-05-01T02:00","lo":-0.1,"hi":0.25},{"t":"2022-05-01T03:00","lo":-0.1,"hi":0.08},{"t":"2022-05-01T12:00","lo":-0.1,"hi":0.08},{"t":"2022-05-01T13:00","lo":-0.1,"hi":0.3},{"t":"2022-05-01T14:00","lo":-0.1,"hi":0.08},
{"t":"2022-05-04T06:00","lo":-0.1,"hi":0.08},{"t":"2022-05-04T07:00","lo":-0.8,"hi":0.08},{"t":"2022-05-04T08:00","lo":-0.1,"hi":0.08},{"t":"2022-05-04T22:00","lo":-0.1,"hi":0.08},{"t":"2022-05-04T23:00","lo":-0.45,"hi":0.08},{"t":"2022-05-05T00:00","lo":-0.1,"hi":0.08},
{"t":"2022-05-05T19:00","lo":-0.1,"hi":0.08},{"t":"2022-05-05T20:00","lo":-0.85,"hi":0.08},{"t":"2022-05-05T21:00","lo":-0.1,"hi":0.08},{"t":"2022-05-06T21:00","lo":-0.1,"hi":0.08},{"t":"2022-05-06T22:00","lo":-0.3,"hi":0.08},{"t":"2022-05-06T23:00","lo":-0.1,"hi":0.08},
{"t":"2022-05-10T00:00","lo":-0.1,"hi":0.08},{"t":"2022-05-10T01:00","lo":-0.1,"hi":0.3},{"t":"2022-05-10T02:00","lo":-0.1,"hi":0.08},{"t":"2022-05-11T04:00","lo":-0.1,"hi":0.08},{"t":"2022-05-11T08:00","lo":-0.3,"hi":0.45},{"t":"2022-05-12T05:00","lo":-0.3,"hi":0.45},{"t":"2022-05-12T06:00","lo":-0.3,"hi":6.4},{"t":"2022-05-12T07:00","lo":-0.3,"hi":0.45},{"t":"2022-05-12T12:00","lo":-0.6,"hi":0.45},
{"t":"2022-05-12T18:00","lo":-0.3,"hi":0.4},{"t":"2022-05-12T22:00","lo":-1.0,"hi":0.35},{"t":"2022-05-12T23:00","lo":-0.3,"hi":0.35},{"t":"2022-05-13T02:00","lo":-0.3,"hi":1.25},{"t":"2022-05-13T03:00","lo":-0.2,"hi":0.3},
{"t":"2022-05-13T19:00","lo":-0.15,"hi":0.15},{"t":"2022-05-13T20:00","lo":-1.65,"hi":0.15},{"t":"2022-05-13T21:00","lo":-0.15,"hi":0.15},{"t":"2022-05-14T23:00","lo":-0.12,"hi":0.12},{"t":"2022-05-15T00:00","lo":-1.7,"hi":0.12},{"t":"2022-05-15T01:00","lo":-0.12,"hi":0.12},
{"t":"2022-05-16T17:00","lo":-0.12,"hi":0.12},{"t":"2022-05-16T18:00","lo":-1.55,"hi":0.12},{"t":"2022-05-16T19:00","lo":-0.12,"hi":0.12},{"t":"2022-05-17T03:00","lo":-0.12,"hi":0.12},{"t":"2022-05-17T04:00","lo":-2.08,"hi":0.12},{"t":"2022-05-17T05:00","lo":-0.12,"hi":0.12},
{"t":"2022-05-18T15:00","lo":-0.12,"hi":0.1},{"t":"2022-05-18T16:00","lo":-0.4,"hi":0.1},{"t":"2022-05-18T17:00","lo":-0.1,"hi":0.1},{"t":"2022-05-23T18:00","lo":-0.1,"hi":0.1},{"t":"2022-05-23T19:00","lo":-0.1,"hi":0.3},{"t":"2022-05-23T20:00","lo":-0.1,"hi":0.1},
{"t":"2022-05-24T11:00","lo":-0.1,"hi":0.1},{"t":"2022-05-24T12:00","lo":-1.0,"hi":0.1},{"t":"2022-05-24T13:00","lo":-0.1,"hi":0.1},{"t":"2022-05-26T01:00","lo":-0.1,"hi":0.1},{"t":"2022-05-26T02:00","lo":-0.5,"hi":0.1},{"t":"2022-05-26T03:00","lo":-0.1,"hi":0.1},
{"t":"2022-05-26T19:00","lo":-0.1,"hi":0.1},{"t":"2022-05-26T20:00","lo":-0.1,"hi":1.2},{"t":"2022-05-26T23:00","lo":-0.1,"hi":2.2},{"t":"2022-05-27T00:00","lo":-0.1,"hi":1.2},{"t":"2022-05-27T02:00","lo":-0.1,"hi":1.1},{"t":"2022-05-27T03:00","lo":-0.1,"hi":0.1},
{"t":"2022-05-28T06:00","lo":-0.1,"hi":0.1},{"t":"2022-05-28T07:00","lo":-0.95,"hi":0.1},{"t":"2022-05-28T08:00","lo":-0.1,"hi":0.1},{"t":"2022-05-30T00:00","lo":-0.1,"hi":0.1}
]
},
"vconcat":[
{"width":793,"height":189,"data":{"name":"btc"},
 "mark":{"type":"line","strokeWidth":3,"clip":true},
 "encoding":{
  "x":{"field":"t","type":"temporal","scale":{"domain":[{"year":2022,"month":4,"date":20},{"year":2022,"month":5,"date":30}],"nice":false},"axis":{"title":null,"labels":false,"tickCount":{"interval":"day","step":1},"tickSize":{"condition":{"test":"month(datum.value)==4 && date(datum.value)==1","value":7.5},"value":4.4}}},
  "y":{"field":"v","type":"quantitative","scale":{"domain":[-51.2,6.1],"nice":false,"zero":false},"axis":{"title":null,"values":[0,-10,-20,-30,-40,-50],"format":"d"}},
  "color":{"datum":"BTC","type":"nominal","scale":{"range":["#1f77b4"]},"legend":{"orient":"top-right"}}}},
{"width":793,"height":189,"data":{"name":"busd"},
 "mark":{"type":"area","interpolate":"step-after","stroke":"#ff7f0e","strokeWidth":1.8,"clip":true},
 "encoding":{
  "x":{"field":"t","type":"temporal","scale":{"domain":[{"year":2022,"month":4,"date":20},{"year":2022,"month":5,"date":30}],"nice":false},"axis":{"title":null,"labels":false,"tickCount":{"interval":"day","step":1},"tickSize":{"condition":{"test":"month(datum.value)==4 && date(datum.value)==1","value":7.5},"value":4.4}}},
  "y":{"field":"lo","type":"quantitative","scale":{"domain":[-0.0991,0.1093],"nice":false,"zero":false},"axis":{"title":null,"values":[0.1,0.05,0,-0.05],"format":".2f"}},
  "y2":{"field":"hi"},
  "color":{"datum":"BUSD","type":"nominal","scale":{"range":["#ff7f0e"]},"legend":{"orient":"top-left","symbolType":"stroke","symbolStrokeColor":"#ff7f0e"}}}},
{"width":793,"height":189,"data":{"name":"dai"},
 "mark":{"type":"area","stroke":"#2ca02c","strokeWidth":1.6,"clip":true},
 "encoding":{
  "x":{"field":"t","type":"temporal","scale":{"domain":[{"year":2022,"month":4,"date":20},{"year":2022,"month":5,"date":30}],"nice":false},"axis":{"title":null,"labels":false,"tickCount":{"interval":"day","step":1},"tickSize":{"condition":{"test":"month(datum.value)==4 && date(datum.value)==1","value":7.5},"value":4.4}}},
  "y":{"field":"lo","type":"quantitative","scale":{"domain":[-1.235,2.955],"nice":false,"zero":false},"axis":{"title":null,"values":[2,1,0,-1],"format":"d"}},
  "y2":{"field":"hi"},
  "color":{"datum":"DAI","type":"nominal","scale":{"range":["#2ca02c"]},"legend":{"orient":"top-right","symbolType":"stroke","symbolStrokeColor":"#2ca02c"}}}},
{"width":793,"height":189,"data":{"name":"luna"},
 "mark":{"type":"line","strokeWidth":2,"clip":true},
 "encoding":{
  "x":{"field":"t","type":"temporal","scale":{"domain":[{"year":2022,"month":4,"date":20},{"year":2022,"month":5,"date":30}],"nice":false},"axis":{"title":null,"labels":false,"tickCount":{"interval":"day","step":1},"tickSize":{"condition":{"test":"month(datum.value)==4 && date(datum.value)==1","value":7.5},"value":4.4}}},
  "y":{"field":"v","type":"quantitative","scale":{"domain":[-1587.7,81.6],"nice":false,"zero":false},"axis":{"title":null,"values":[0,-500,-1000,-1500],"format":"d"}},
  "color":{"datum":"LUNA","type":"nominal","scale":{"range":["#d62728"]},"legend":{"orient":"top-right"}}}},
{"width":793,"height":189,"data":{"name":"ust"},
 "mark":{"type":"line","strokeWidth":2.2,"clip":true},
 "encoding":{
  "x":{"field":"t","type":"temporal","scale":{"domain":[{"year":2022,"month":4,"date":20},{"year":2022,"month":5,"date":30}],"nice":false},"axis":{"title":null,"labels":false,"tickCount":{"interval":"day","step":1},"tickSize":{"condition":{"test":"month(datum.value)==4 && date(datum.value)==1","value":7.5},"value":4.4}}},
  "y":{"field":"v","type":"quantitative","scale":{"domain":[-415.7,19.8],"nice":false,"zero":false},"axis":{"title":null,"values":[0,-100,-200,-300,-400],"format":"d"}},
  "color":{"datum":"UST","type":"nominal","scale":{"range":["#9467bd"]},"legend":{"orient":"top-right"}}}},
{"width":793,"height":189,"data":{"name":"usdt"},
 "mark":{"type":"area","stroke":"#8c564b","strokeWidth":1.6,"clip":true},
 "encoding":{
  "x":{"field":"t","type":"temporal","scale":{"domain":[{"year":2022,"month":4,"date":20},{"year":2022,"month":5,"date":30}],"nice":false},"axis":{"title":null,"labels":false,"tickCount":{"interval":"day","step":1},"tickSize":{"condition":{"test":"month(datum.value)==4 && date(datum.value)==1","value":7.5},"value":4.4}}},
  "y":{"field":"lo","type":"quantitative","scale":{"domain":[-5.195,0.73],"nice":false,"zero":false},"axis":{"title":null,"values":[0,-1,-2,-3,-4,-5],"format":"d"}},
  "y2":{"field":"hi"},
  "color":{"datum":"USDT","type":"nominal","scale":{"range":["#8c564b"]},"legend":{"orient":"bottom-left","symbolType":"stroke","symbolStrokeColor":"#8c564b"}}}},
{"width":793,"height":189,"data":{"name":"usdc"},
 "mark":{"type":"area","stroke":"#e377c2","strokeWidth":1.6,"clip":true},
 "encoding":{
  "x":{"field":"t","type":"temporal","scale":{"domain":[{"year":2022,"month":4,"date":20},{"year":2022,"month":5,"date":30}],"nice":false},"axis":{"title":null,"tickCount":{"interval":"day","step":1},"tickSize":{"condition":{"test":"month(datum.value)==4 && date(datum.value)==1","value":7.5},"value":4.4},
   "labelExpr":"day(datum.value)==1 && date(datum.value)!=30 ? timeFormat(datum.value, '%d') : (month(datum.value)==4 && date(datum.value)==1 ? ['May', '2022'] : '')",
   "labelPadding":{"condition":{"test":"month(datum.value)==4 && date(datum.value)==1","value":36},"value":4.6},
   "labelFont":"DejaVu Sans","labelFontSize":12.5,"labelColor":"#000","labelLineHeight":14.7,"labelOverlap":false,"labelFlush":false,"labelBound":false,"labelAngle":0}},
  "y":{"field":"lo","type":"quantitative","scale":{"domain":[-2.51,6.88],"nice":false,"zero":false},"axis":{"title":null,"values":[6,4,2,0,-2],"format":"d"}},
  "y2":{"field":"hi"},
  "color":{"datum":"USDC","type":"nominal","scale":{"range":["#e377c2"]},"legend":{"orient":"top-right","symbolType":"stroke","symbolStrokeColor":"#e377c2"}}}}
]
}
